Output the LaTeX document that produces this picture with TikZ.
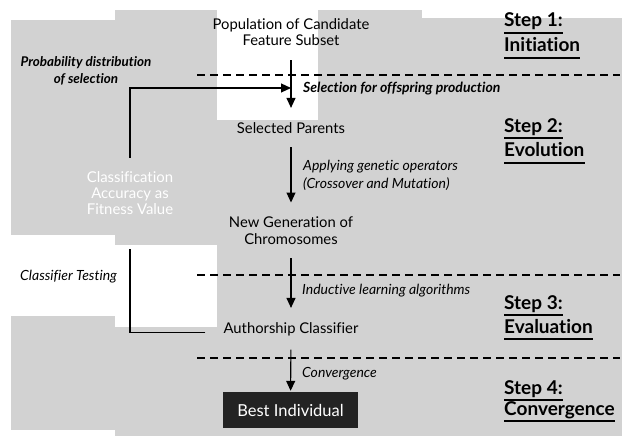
\documentclass[tikz,border=0pt]{standalone}
\usepackage{fontspec}
\setmainfont[Ligatures=NoCommon]{Lato}
\usetikzlibrary{arrows.meta}
\definecolor{bggray}{HTML}{D2D2D2}
\definecolor{boxfill}{HTML}{232323}
\tikzset{
  mainlab/.style={font=\fontsize{14.8}{16.5}\selectfont, align=center, inner xsep=0pt, inner ysep=14pt},
  itlab/.style={font=\fontsize{14}{18}\selectfont\itshape, align=left, anchor=base west, inner sep=0pt},
  bitlab/.style={font=\fontsize{13.4}{17}\selectfont\bfseries\itshape, align=center, anchor=base, inner sep=0pt},
  steplab/.style={font=\fontsize{19}{22}\selectfont\bfseries, anchor=base west, inner sep=0pt},
  uline/.style={line width=1.6pt},
  arr/.style={-{Triangle[length=10pt,width=9pt]}, line width=1.1pt},
  loopline/.style={line width=1.1pt},
  sep/.style={line width=1.2pt, dash pattern=on 8pt off 5pt},
  bestbox/.style={fill=boxfill, text=white, font=\fontsize{16.5}{18}\selectfont, minimum width=135pt, minimum height=36pt, inner sep=0pt}
}
\begin{document}
\begin{tikzpicture}[x=1pt,y=-1pt]
\useasboundingbox (0,0) rectangle (622,436);
% background patches
\fill[white] (0,0) rectangle (622,436);
\fill[bggray] (11,10) rectangle (622,436);
\fill[white] (11,10) rectangle (115,20);
\fill[white] (217,0) rectangle (318,120);
\fill[white] (422,10) rectangle (622,18);
\fill[white] (0,235) rectangle (115,316);
\fill[white] (115,245) rectangle (217,327);
\fill[white] (0,430) rectangle (115,436);
% separators
\draw[sep] (197,75) -- (620,75);
\draw[sep] (197,275) -- (620,275);
\draw[sep] (197,358) -- (620,358);
% main nodes (base = baseline of last line)
\node[mainlab, anchor=base] (pop) at (291,46) {Population of Candidate\\Feature Subset};
\node[mainlab, anchor=base] (sel) at (291,133) {Selected Parents};
\node[mainlab, anchor=base] (gen) at (291,244) {New Generation of\\Chromosomes};
\node[mainlab, anchor=base, inner xsep=18pt] (auth) at (291,333) {Authorship Classifier};
\node[bestbox] (best) at (290.5,410) {Best Individual};
\node[mainlab, anchor=base, text=white, inner xsep=2pt, inner ysep=13pt, font=\fontsize{14.9}{16}\selectfont] (fit) at (130,214) {Classification\\Accuracy as\\Fitness Value};
\coordinate (fb) at (291,88);
% arrows
\draw[arr] (pop) -- (sel);
\draw[arr] (sel) -- (gen);
\draw[arr] (gen) -- (auth);
\draw[arr, shorten >=1pt] (auth) -- (best);
\draw[loopline, shorten >=22pt] ([yshift=-4pt]auth.west) -| (fit.south);
\draw[arr] (fit.north) |- (fb);
% side labels
\node[bitlab] (prob) at (86,84) {Probability distribution\\of selection};
\node[itlab, font=\fontsize{14}{18}\selectfont\bfseries\itshape] (lsel) at (303,93) {Selection for offspring production};
\node[itlab] (lgen) at (303,188) {Applying genetic operators\\(Crossover and Mutation)};
\node[itlab] (ltest) at (20,280) {Classifier Testing};
\node[itlab] (lind) at (302,294) {Inductive learning algorithms};
\node[itlab] (lconv) at (302,377) {Convergence};
% steps
\node[steplab] (s1a) at (504,27) {Step 1:};
\node[steplab] (s1b) at (504,52) {Initiation};
\node[steplab] (s2a) at (504,132) {Step 2:};
\node[steplab] (s2b) at (504,157) {Evolution};
\node[steplab] (s3a) at (504,309) {Step 3:};
\node[steplab] (s3b) at (504,333) {Evaluation};
\node[steplab] (s4a) at (504,394) {Step 4:};
\node[steplab] (s4b) at (504,415) {Convergence};
\foreach \n in {s1a,s1b,s2a,s2b,s3a,s3b,s4a,s4b}{
  \draw[uline] ([yshift=-6pt]\n.base west) -- ([yshift=-6pt]\n.base east);
}
\end{tikzpicture}
\end{document}
